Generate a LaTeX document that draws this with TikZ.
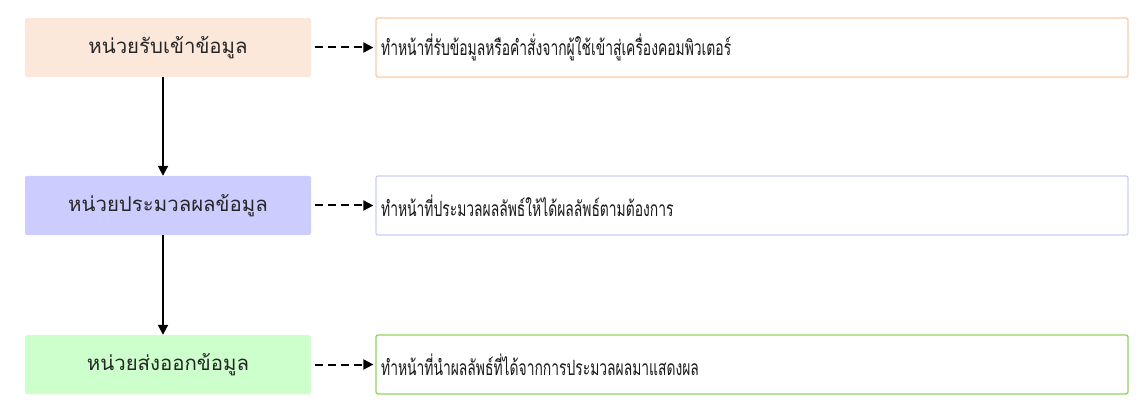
\documentclass[tikz,border=0pt]{standalone}
\usepackage{fontspec}
\newfontfamily\thaifont[Script=Thai]{Loma}
\usetikzlibrary{arrows.meta}
\definecolor{peachfill}{HTML}{FCE8DA}
\definecolor{peachline}{HTML}{F9CBA8}
\definecolor{bluefill}{HTML}{CCCCFF}
\definecolor{blueline}{HTML}{CCCCFF}
\definecolor{greenfill}{HTML}{CCFFCC}
\definecolor{greenline}{HTML}{8FD45E}
\tikzset{
  unit/.style={draw=none, rounded corners=2pt, minimum width=286pt, minimum height=59pt, inner sep=0pt, font=\thaifont\fontsize{20.4}{24}\selectfont, text=black!85},
  desc/.style={draw, line width=1.3pt, fill=white, rounded corners=2pt, minimum width=752pt, minimum height=59pt, inner sep=0pt},
  desctext/.style={anchor=west, inner sep=0pt, font=\thaifont\fontsize{21}{25}\selectfont, xscale=0.66, text=black!90},
  flow/.style={-{Triangle[length=10pt,width=10pt]}, line width=2pt},
  dashflow/.style={-{Triangle[length=10pt,width=10pt]}, line width=2pt, dash pattern=on 8pt off 5pt},
}
\begin{document}
\begin{tikzpicture}[x=1pt,y=-1pt]
\useasboundingbox (0,0) rectangle (1144,409);
\node[unit, fill=peachfill] (u1) at (168,47.5) {หน่วยรับเข้าข้อมูล};
\node[unit, fill=bluefill] (u2) at (168,205.5) {หน่วยประมวลผลข้อมูล};
\node[unit, fill=greenfill] (u3) at (168,364.5) {หน่วยส่งออกข้อมูล};
\node[desc, draw=peachline] (d1) at (752,47.5) {};
\node[desc, draw=blueline] (d2) at (752,205.5) {};
\node[desc, draw=greenline] (d3) at (752,364.5) {};
\node[desctext] (t1) at (381,47.5) {ทำหน้าที่รับข้อมูลหรือคำสั่งจากผู้ใช้เข้าสู่เครื่องคอมพิวเตอร์};
\node[desctext] (t2) at (381,205.5) {ทำหน้าที่ประมวลผลลัพธ์ให้ได้ผลลัพธ์ตามต้องการ};
\node[desctext] (t3) at (381,364.5) {ทำหน้าที่นำผลลัพธ์ที่ได้จากการประมวลผลมาแสดงผล};
\draw[flow] ([xshift=-5pt]u1.south) -- ([xshift=-5pt]u2.north);
\draw[flow] ([xshift=-5pt]u2.south) -- ([xshift=-5pt]u3.north);
\draw[dashflow] ([xshift=4pt]u1.east) -- ([xshift=-2pt]d1.west);
\draw[dashflow] ([xshift=4pt]u2.east) -- ([xshift=-2pt]d2.west);
\draw[dashflow] ([xshift=4pt]u3.east) -- ([xshift=-2pt]d3.west);
\end{tikzpicture}
\end{document}
